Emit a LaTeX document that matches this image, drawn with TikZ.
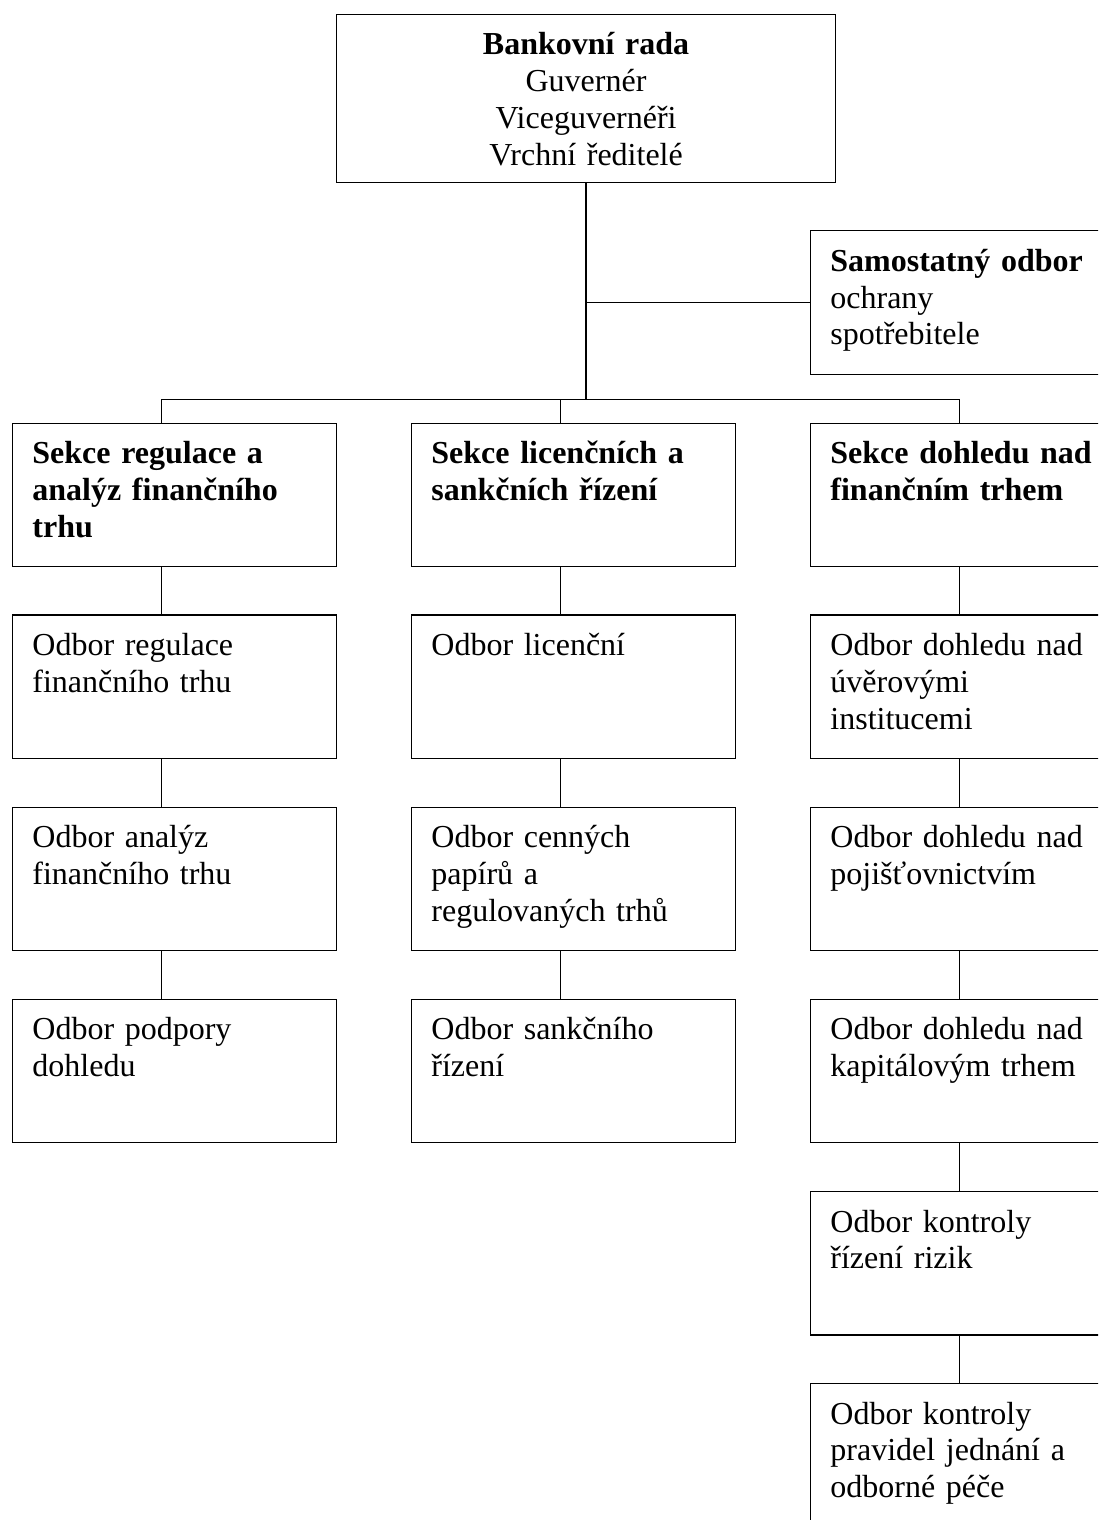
\documentclass[tikz,border=0pt]{standalone}
\usepackage{fontspec}
\setmainfont{Liberation Serif}
\tikzset{
  unit/.style={draw, line width=0.7pt, anchor=north west, inner xsep=10pt, inner ysep=0pt,
    text width=142pt, align=left, text height=20.3pt, text depth=51.45pt,
    font=\fontsize{16}{18.4}\selectfont},
  board/.style={draw, line width=0.7pt, anchor=north west, inner sep=0pt,
    text width=249.65pt, align=center, text height=20pt, text depth=64pt,
    font=\fontsize{16}{18.4}\selectfont},
  link/.style={line width=0.7pt},
  stem/.style={xshift=75pt}
}
\begin{document}
\begin{tikzpicture}[x=0.5pt, y=-0.5pt]
\fill[white] (0,0) rectangle (1098,1520);
\useasboundingbox (0,0) rectangle (1098,1520);
\clip (0,0) rectangle (1098,1520);

% vedeni
\node[board] (rada) at (335.7,14) {\textbf{Bankovní rada}\\ Guvernér\\ Viceguvernéři\\ Vrchní ředitelé};
\node[unit] (ochrana) at (809.7,230) {\textbf{Samostatný odbor}\\ ochrany\\ spotřebitele};

% sekce
\node[unit] (sreg) at (11.7,422.5) {\textbf{Sekce regulace a\\ analýz finančního\\ trhu}};
\node[unit] (slic) at (410.7,422.5) {\textbf{Sekce licenčních a\\ sankčních řízení}};
\node[unit] (sdoh) at (809.7,422.5) {\textbf{Sekce dohledu nad\\ finančním trhem}};

% odbory - regulace
\node[unit] (oreg) at (11.7,614.3) {Odbor regulace\\ finančního trhu};
\node[unit] (oanal) at (11.7,806.5) {Odbor analýz\\ finančního trhu};
\node[unit] (opod) at (11.7,998.5) {Odbor podpory\\ dohledu};

% odbory - licence
\node[unit] (olic) at (410.7,614.3) {Odbor licenční};
\node[unit] (ocen) at (410.7,806.5) {Odbor cenných\\ papírů a\\ regulovaných trhů};
\node[unit] (osank) at (410.7,998.5) {Odbor sankčního\\ řízení};

% odbory - dohled
\node[unit] (ouver) at (809.7,614.3) {Odbor dohledu nad\\ úvěrovými\\ institucemi};
\node[unit] (opoj) at (809.7,806.5) {Odbor dohledu nad\\ pojišťovnictvím};
\node[unit] (okap) at (809.7,998.5) {Odbor dohledu nad\\ kapitálovým trhem};
\node[unit] (orizik) at (809.7,1190.7) {Odbor kontroly\\ řízení rizik};
\node[unit] (opravid) at (809.7,1382.7) {Odbor kontroly\\ pravidel jednání a\\ odborné péče};

% spojnice
\path (rada.south) ++(0,216.3) coordinate (hub);
\draw[link] (rada.south) -- (hub);
\draw[link] (rada.south |- ochrana.west) -- (ochrana.west);
\draw[link] ([stem]sreg.north west) |- (hub) -| ([stem]sdoh.north west);
\draw[link] ([stem]slic.north west) |- (hub);

\draw[link] ([stem]sreg.south west) -- ([stem]oreg.north west);
\draw[link] ([stem]oreg.south west) -- ([stem]oanal.north west);
\draw[link] ([stem]oanal.south west) -- ([stem]opod.north west);

\draw[link] ([stem]slic.south west) -- ([stem]olic.north west);
\draw[link] ([stem]olic.south west) -- ([stem]ocen.north west);
\draw[link] ([stem]ocen.south west) -- ([stem]osank.north west);

\draw[link] ([stem]sdoh.south west) -- ([stem]ouver.north west);
\draw[link] ([stem]ouver.south west) -- ([stem]opoj.north west);
\draw[link] ([stem]opoj.south west) -- ([stem]okap.north west);
\draw[link] ([stem]okap.south west) -- ([stem]orizik.north west);
\draw[link] ([stem]orizik.south west) -- ([stem]opravid.north west);
\end{tikzpicture}
\end{document}
